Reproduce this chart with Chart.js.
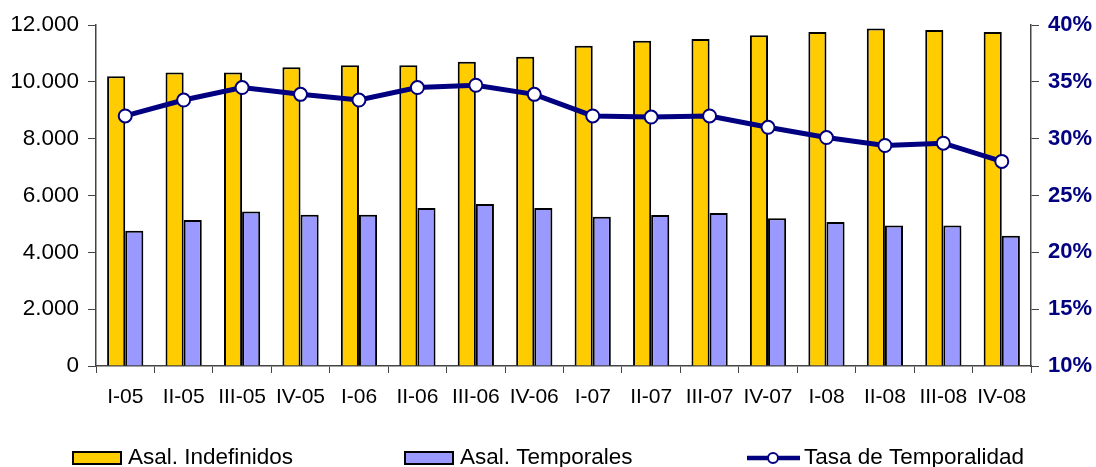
<!DOCTYPE html>
<html>
<head>
<meta charset="utf-8">
<script src="https://cdn.jsdelivr.net/npm/chart.js@4.4.1/dist/chart.umd.min.js"></script>
<style>
    html, body { margin: 0; padding: 0; background: #fff; }
    #wrap { width: 1096px; height: 467px; position: relative; }
</style>
</head>
<body>
<div id="wrap"><canvas id="chart"></canvas></div>
<script>
(function () {
    'use strict';

    const quarters = ['I-05', 'II-05', 'III-05', 'IV-05', 'I-06', 'II-06', 'III-06', 'IV-06',
        'I-07', 'II-07', 'III-07', 'IV-07', 'I-08', 'II-08', 'III-08', 'IV-08'];
    const indefinidos = [10200, 10330, 10330, 10510, 10580, 10580, 10710, 10880,
        11270, 11450, 11510, 11640, 11750, 11880, 11820, 11750];
    const temporales = [4760, 5140, 5440, 5320, 5320, 5560, 5700, 5560,
        5250, 5310, 5380, 5200, 5070, 4940, 4940, 4580];
    const tasa = [32.0, 33.4, 34.5, 33.9, 33.4, 34.5, 34.7, 33.9,
        32.0, 31.9, 32.0, 31.0, 30.1, 29.4, 29.6, 28.0];

    const leftTicks = [0, 2000, 4000, 6000, 8000, 10000, 12000];
    const rightTicks = [10, 15, 20, 25, 30, 35, 40];

    const FONT = '"Liberation Sans", Arial, sans-serif';
    const NAVY = '#000080';

    function fmtThousands(v) {
        return String(v).replace(/\B(?=(\d{3})+(?!\d))/g, '.');
    }

    // legend drawn by hand so the items sit where the original has them
    const bottomLegend = {
        id: 'bottomLegend',
        afterDraw: function (chart) {
            const ctx = chart.ctx;
            const starts = [73, 405, 747];
            const y = 458;
            ctx.save();
            ctx.font = '22.5px ' + FONT;
            ctx.textBaseline = 'middle';
            ctx.fillStyle = '#000';
            chart.data.datasets.forEach(function (ds, i) {
                const x = starts[i];
                if (ds.type === 'line') {
                    ctx.strokeStyle = ds.borderColor;
                    ctx.lineWidth = 4.5;
                    ctx.beginPath();
                    ctx.moveTo(x, y);
                    ctx.lineTo(x + 53, y);
                    ctx.stroke();
                    ctx.beginPath();
                    ctx.arc(x + 26, y, 5, 0, Math.PI * 2);
                    ctx.fillStyle = '#fff';
                    ctx.fill();
                    ctx.lineWidth = 2;
                    ctx.stroke();
                    ctx.fillStyle = '#000';
                    ctx.fillText(ds.label, x + 57, y);
                } else {
                    ctx.fillStyle = ds.backgroundColor;
                    ctx.fillRect(x, y - 6, 48, 12);
                    ctx.strokeStyle = '#000';
                    ctx.lineWidth = 2;
                    ctx.strokeRect(x, y - 6, 48, 12);
                    ctx.fillStyle = '#000';
                    ctx.fillText(ds.label, x + 55, y);
                }
            });
            ctx.restore();
        }
    };

    new Chart(document.getElementById('chart'), {
        data: {
            labels: quarters,
            datasets: [{
                type: 'bar',
                label: 'Asal. Indefinidos',
                data: indefinidos,
                backgroundColor: '#FFCC00',
                borderColor: '#000',
                borderWidth: 2,
                yAxisID: 'y',
                order: 1,
                categoryPercentage: 0.62,
                barPercentage: 1
            }, {
                type: 'bar',
                label: 'Asal. Temporales',
                data: temporales,
                backgroundColor: '#9999FF',
                borderColor: '#000',
                borderWidth: 2,
                yAxisID: 'y',
                order: 1,
                categoryPercentage: 0.62,
                barPercentage: 1
            }, {
                type: 'line',
                label: 'Tasa de Temporalidad',
                data: tasa,
                borderColor: NAVY,
                borderWidth: 5,
                pointRadius: 6.5,
                pointBackgroundColor: '#fff',
                pointBorderColor: NAVY,
                pointBorderWidth: 2,
                tension: 0,
                yAxisID: 'y1',
                order: 0
            }]
        },
        options: {
            responsive: true,
            maintainAspectRatio: false,
            animation: false,
            layout: { padding: { top: 25, bottom: 51, left: 0, right: 0 } },
            plugins: {
                legend: { display: false },
                tooltip: { enabled: false }
            },
            scales: {
                x: {
                    grid: { display: true, drawOnChartArea: false, offset: true, color: '#444', tickLength: 7 },
                    border: { color: '#444', width: 1.5 },
                    ticks: { color: '#000', font: { family: FONT, size: 21 }, padding: 12, maxRotation: 0, autoSkip: false },
                    afterFit: function (s) { s.height = 50; }
                },
                y: {
                    position: 'left',
                    min: 0,
                    max: 12000,
                    grid: { drawOnChartArea: false, color: '#444', tickLength: 8 },
                    border: { color: '#444', width: 1.5 },
                    afterBuildTicks: function (s) { s.ticks = leftTicks.map(function (v) { return { value: v }; }); },
                    ticks: {
                        color: '#000',
                        font: { family: FONT, size: 22.5 },
                        padding: 9,
                        callback: function (v) { return fmtThousands(v); }
                    },
                    afterFit: function (s) { s.width = 96; }
                },
                y1: {
                    position: 'right',
                    min: 10,
                    max: 40,
                    grid: { drawOnChartArea: false, color: '#444', tickLength: 8 },
                    border: { color: '#444', width: 1.5 },
                    afterBuildTicks: function (s) { s.ticks = rightTicks.map(function (v) { return { value: v }; }); },
                    ticks: {
                        color: NAVY,
                        font: { family: FONT, size: 22, weight: 'bold' },
                        padding: 9,
                        callback: function (v) { return v + '%'; }
                    },
                    afterFit: function (s) { s.width = 65; }
                }
            }
        },
        plugins: [bottomLegend]
    });
})();
</script>
</body>
</html>
